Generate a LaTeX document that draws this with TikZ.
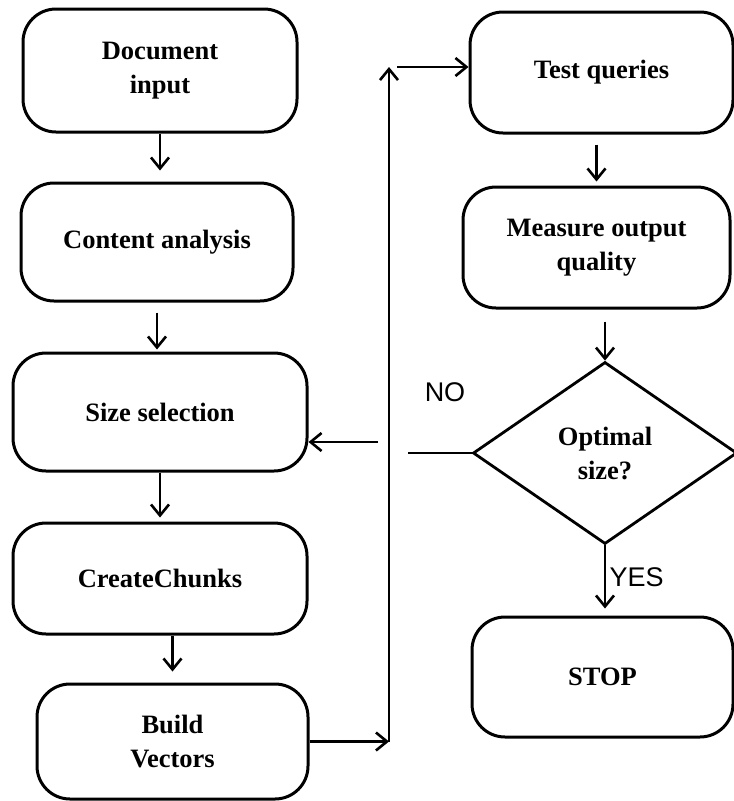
\documentclass[tikz,border=0pt]{standalone}
\usepackage{fontspec}
\setmainfont{Liberation Serif}
\newfontfamily\labelfont{Liberation Sans}
\usetikzlibrary{arrows.meta}
\usetikzlibrary{shapes.geometric}

\begin{document}
\begin{tikzpicture}[x=1pt, y=-1pt,
  box/.style={draw, line width=3pt, rounded corners=33pt, align=center, inner sep=0pt,
    font=\fontsize{26.5}{34}\selectfont\bfseries},
  decide/.style={draw, diamond, line width=2.8pt, align=center, inner sep=0pt,
    minimum width=264pt, minimum height=182pt, font=\fontsize{26.5}{34}\selectfont\bfseries},
  arr/.style={line width=2.6pt, -{Straight Barb[length=11pt,width=18pt]}},
  lbl/.style={font=\labelfont\fontsize{27}{30}\selectfont}]
\useasboundingbox (0,0) rectangle (734,801);

\node[box, minimum width=274pt, minimum height=123pt] (doc) at (160,70.5) {Document\\input};
\node[box, minimum width=272pt, minimum height=118pt] (content) at (157,242) {Content analysis};
\node[box, minimum width=294pt, minimum height=118pt] (size) at (160,412) {Size selection};
\node[box, minimum width=294pt, minimum height=111pt] (chunks) at (160,578.5) {CreateChunks};
\node[box, minimum width=271pt, minimum height=115pt] (build) at (172.5,741.5) {Build\\Vectors};

\node[box, minimum width=263pt, minimum height=121pt] (test) at (601.5,72.5) {Test queries};
\node[box, minimum width=267pt, minimum height=121pt] (measure) at (596.5,247.5) {Measure output\\quality};
\node[decide] (opt) at (605,453) {Optimal\\size?};
\node[box, minimum width=261pt, minimum height=120pt] (stop) at (602.5,677) {STOP};

\draw[arr] (doc.south) -- ([yshift=11pt]doc.south |- content.north);
\draw[arr] ([yshift=-10pt]content.south) -- ([yshift=2pt]content.south |- size.north);
\draw[arr] (size.south) -- ([yshift=4pt]size.south |- chunks.north);
\draw[arr] (build.north |- chunks.south) -- ([yshift=11pt]build.north);

\coordinate (bot) at (389,741.5);
\coordinate (top) at (389,67);
\draw[arr] (build.east) -- (bot);
\draw[arr] (bot) -- (top);
\draw[arr] ([xshift=8pt]top) -- (top -| test.west);

\draw[arr] ([yshift=-10pt]measure.north |- test.south) -- ([yshift=4pt]measure.north);
\draw[arr] ([yshift=-12pt]opt.north |- measure.south) -- (opt.north);
\draw[arr] (opt.south) -- ([yshift=7pt]opt.south |- stop.north) node[midway, right, lbl] (yes) {YES};

\coordinate (nogap) at (408,446);
\coordinate (noret) at (378,442);
\draw[line width=2.6pt] (opt.west) -- (opt.west -| nogap);
\draw[arr] (noret) -- (noret -| size.east);
\node[lbl] (no) at (445,392) {NO};
\end{tikzpicture}
\end{document}
